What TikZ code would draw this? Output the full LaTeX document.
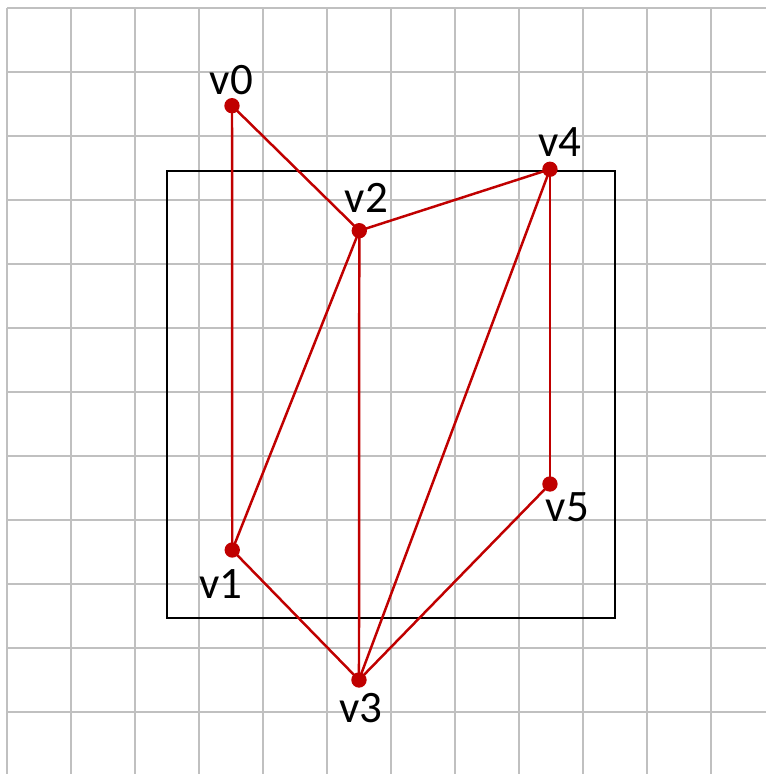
\documentclass[tikz,border=0pt]{standalone}
\usepackage{fontspec}
\setmainfont{Carlito}
\definecolor{vred}{RGB}{192,0,0}
\definecolor{gridgray}{RGB}{192,192,192}
\tikzset{
  gridline/.style={draw=gridgray, line width=1.05pt},
  frame/.style={draw=black, line width=1.15pt},
  edge/.style={draw=vred, line width=1.1pt},
  vdot/.style={circle, fill=vred, inner sep=0pt, minimum size=0.24cm},
  vlabel/.style={anchor=base, inner sep=0pt, font=\fontsize{20}{22}\selectfont},
}
\begin{document}
\begin{tikzpicture}
\useasboundingbox (-0.109,-11.969) rectangle (11.859,0.125);
\begin{scope}
\clip (-0.109,-11.969) rectangle (11.859,0.125);
\draw[gridline] (0,0) grid (12.5,-12.5);
\end{scope}
\draw[frame] (2.5,-2.547) rectangle (9.5,-9.531);
\coordinate (v0) at (3.516,-1.527);
\coordinate (v1) at (3.520,-8.469);
\coordinate (v2) at (5.505,-3.480);
\coordinate (v3) at (5.500,-10.500);
\coordinate (v4) at (8.484,-2.520);
\coordinate (v5) at (8.484,-7.4375);
\draw[edge] (v0) -- (v1);
\draw[edge] (v0) -- (v2);
\draw[edge] (v1) -- (v2);
\draw[edge] (v1) -- (v3);
\draw[edge] (v2) -- (v3);
\draw[edge] (v2) -- (v4);
\draw[edge] (v3) -- (v4);
\draw[edge] (v3) -- (v5);
\draw[edge] (v4) -- (v5);
\node[vdot] (d0) at (v0) {};
\node[vdot] (d1) at (v1) {};
\node[vdot] (d2) at (v2) {};
\node[vdot] (d3) at (v3) {};
\node[vdot] (d4) at (v4) {};
\node[vdot] (d5) at (v5) {};
\node[vlabel] (l0) at (3.508,-1.344) {v0};
\node[vlabel] (l1) at (3.344,-9.234) {v1};
\node[vlabel] (l2) at (5.617,-3.203) {v2};
\node[vlabel] (l3) at (5.531,-11.172) {v3};
\node[vlabel] (l4) at (8.641,-2.328) {v4};
\node[vlabel] (l5) at (8.758,-8.031) {v5};
\end{tikzpicture}
\end{document}
